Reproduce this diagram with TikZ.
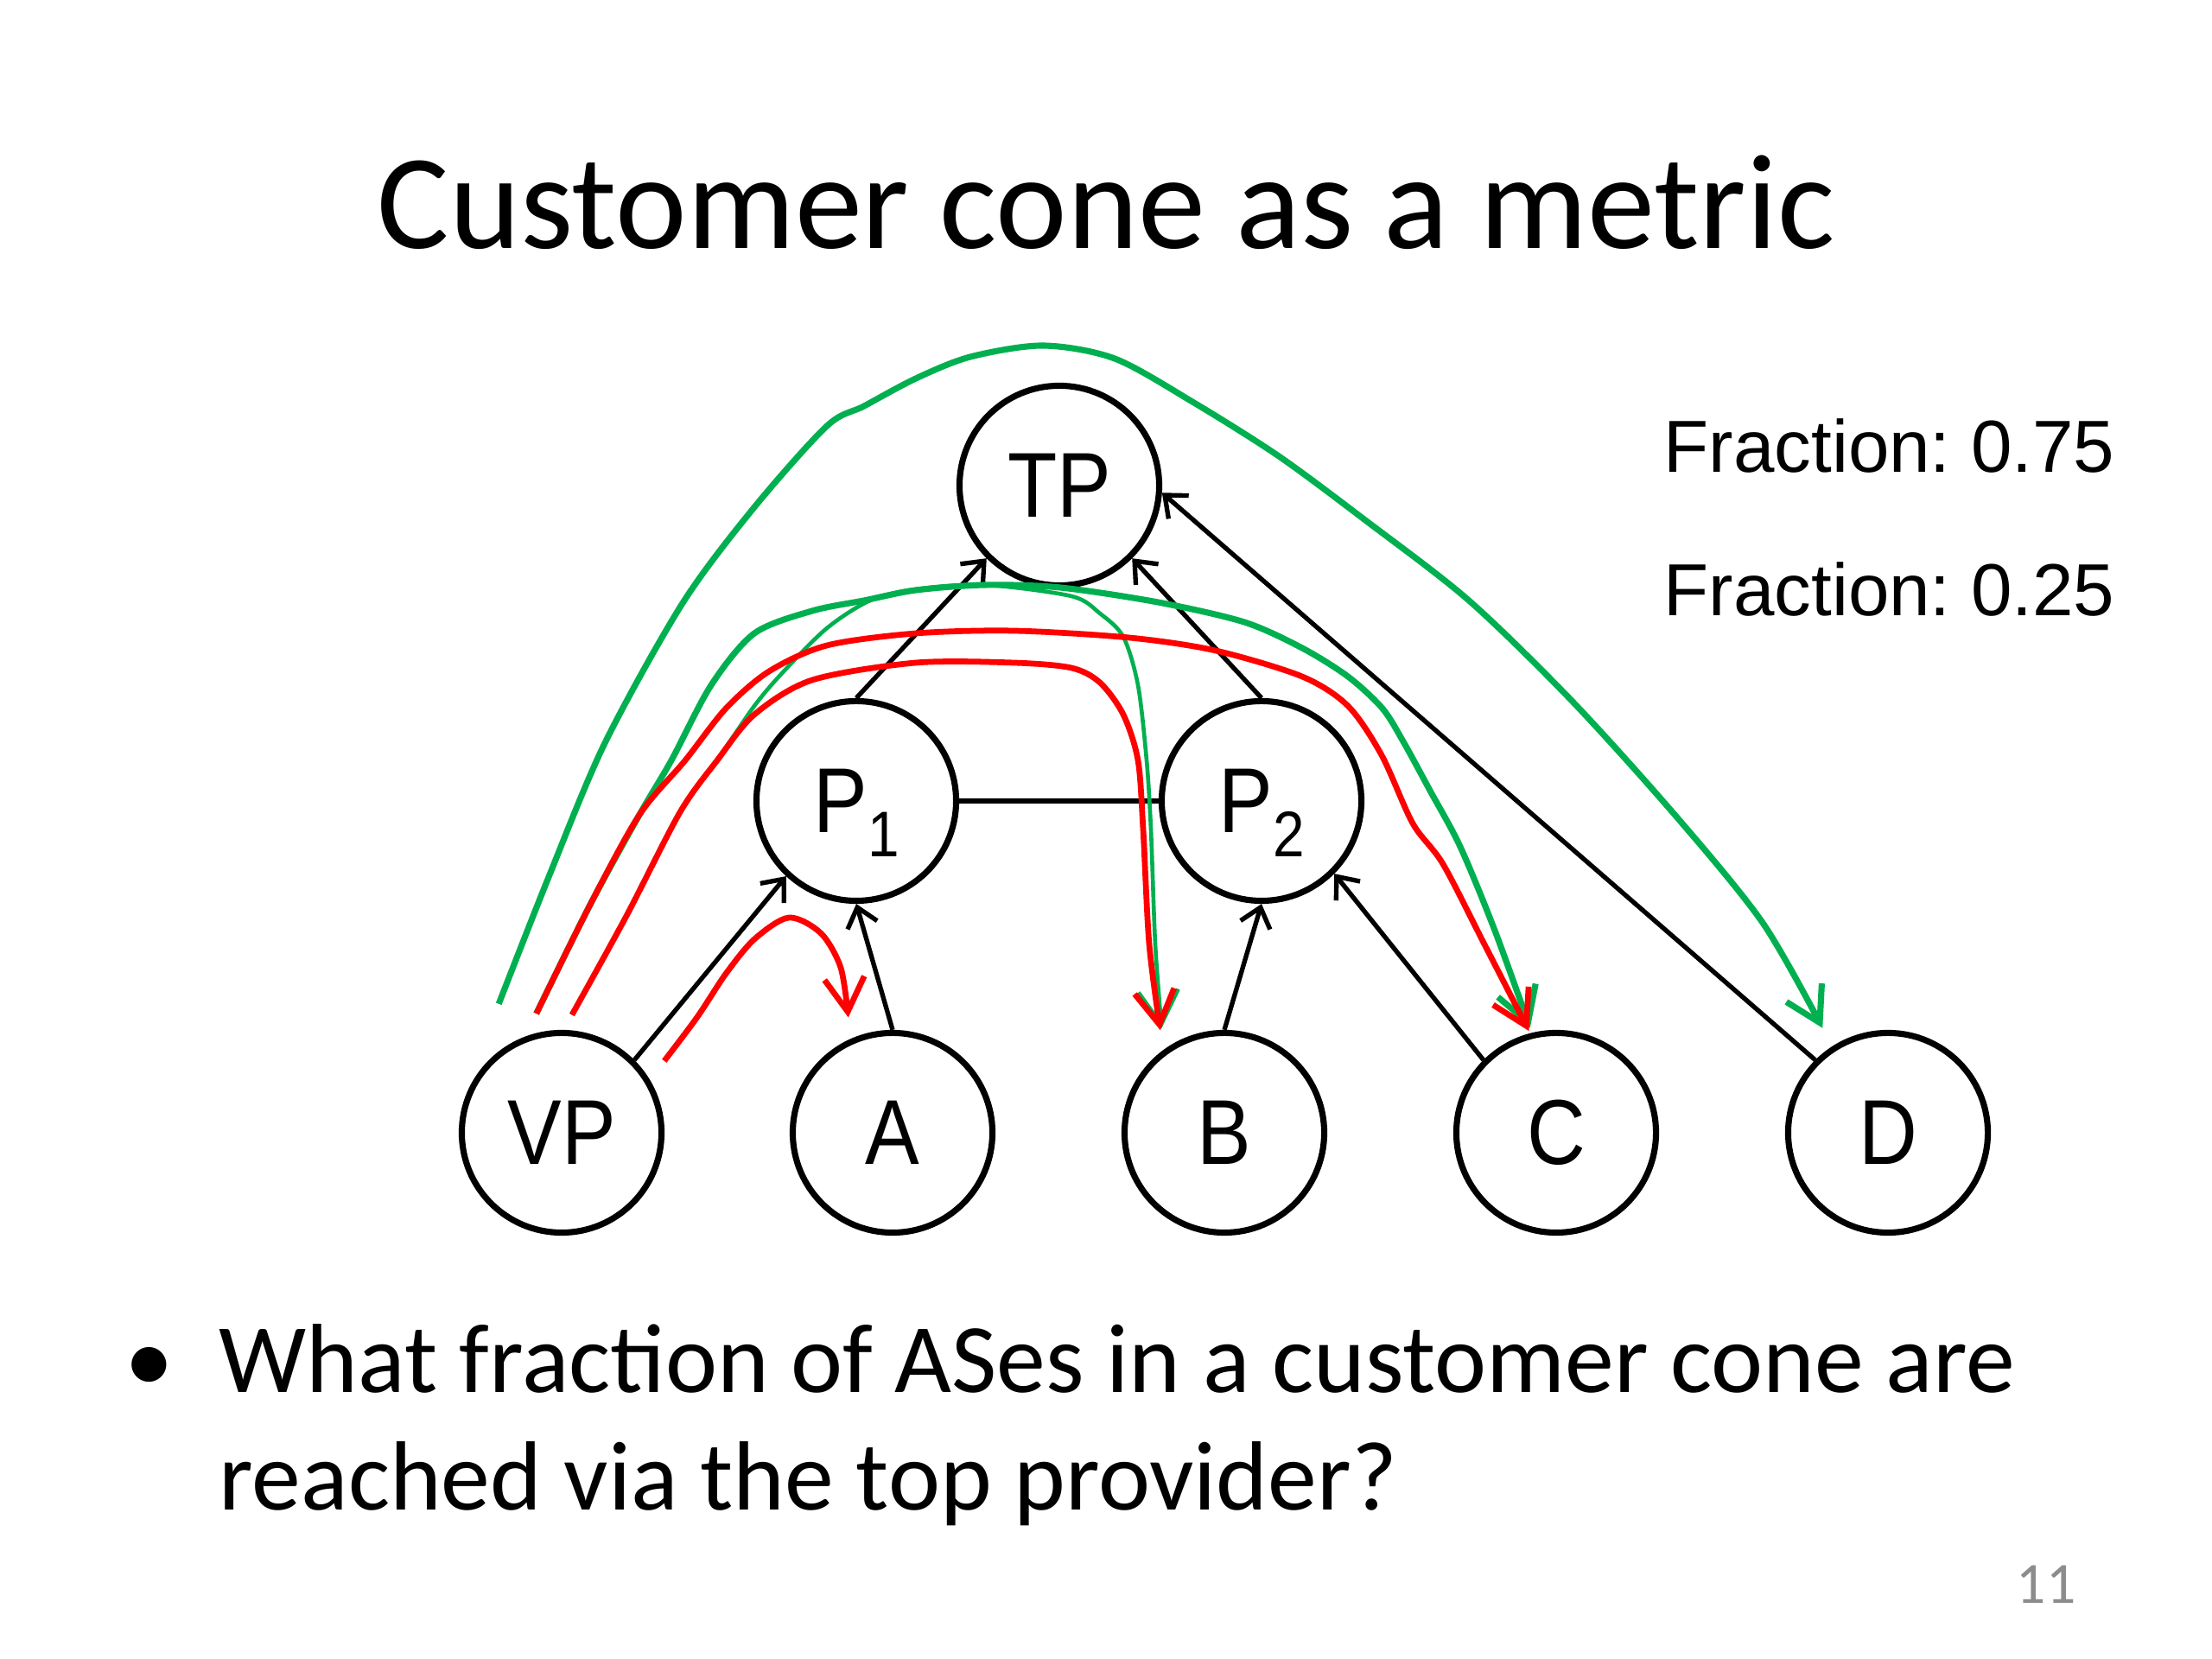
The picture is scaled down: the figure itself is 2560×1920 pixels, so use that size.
\documentclass[tikz,border=0pt]{standalone}
\usepackage{fontspec}
\setmainfont{Carlito}
\newfontfamily\arialfont{Liberation Sans}
\newfontfamily\asfont[FakeStretch=0.88]{Liberation Sans}
\usepackage{tikz}
\usetikzlibrary{arrows.meta, calc}
\definecolor{pathgreen}{HTML}{00B050}
\definecolor{pathred}{HTML}{FF0000}
\definecolor{pagegray}{HTML}{8C8C8C}
\newcommand{\lowidx}[1]{\raisebox{-0.26em}[0pt][0pt]{\fontsize{21}{22}\selectfont #1}}
\frenchspacing

\begin{document}
\begin{tikzpicture}[
            x=0.28125pt, y=0.28125pt,
            asnode/.style  ={circle, draw=black, line width=2pt, fill=white,
                             minimum size=65pt, inner sep=0pt,
                             font=\asfont\fontsize{30}{33}\selectfont},
            rel/.style     ={-{Straight Barb[length=6pt,width=10pt]}, line width=1.5pt},
            peer/.style    ={line width=1.5pt},
            viatp/.style   ={pathgreen, line width=2pt,
                             -{Straight Barb[length=11pt,width=13pt]}},
            notp/.style    ={pathred, line width=1.9pt,
                             -{Straight Barb[length=11pt,width=13pt]}},
            heading/.style ={font=\fontsize{44}{53}\selectfont, anchor=base, inner sep=0pt},
            frac/.style    ={font=\arialfont\fontsize{24}{29}\selectfont, anchor=base west,
                             inner sep=0pt},
            bodytext/.style={font=\fontsize{32}{38}\selectfont, anchor=base west, inner sep=0pt}
        ]
        \fill[white] (0,0) rectangle (2560,1920);
        \useasboundingbox (0,0) rectangle (2560,1920);

        \node[heading] (title) at (1280,1632) {Customer cone as a metric};

        % AS graph
        \node[asnode] (TP) at (1226,1358) {TP};
        \node[asnode] (P1) at (991,993)   {P\lowidx{1}};
        \node[asnode] (P2) at (1460,993)  {P\lowidx{2}};
        \node[asnode] (VP) at (650,609)   {VP};
        \node[asnode] (A)  at (1033,609)  {A};
        \node[asnode] (B)  at (1417,609)  {B};
        \node[asnode] (C)  at (1801,609)  {C};
        \node[asnode] (D)  at (2185,609)  {D};

        \draw[rel] (P1.north) -- (TP.225);
        \draw[rel] (P2.north) -- (TP.315);
        \draw[rel] (D.135) -- (TP.356);
        \draw[rel] (VP.45) -- (P1.227);
        \draw[rel] (A.north) -- (P1.south);
        \draw[rel] (B.north) -- (P2.south);
        \draw[rel] (C.135) -- (P2.315);
        \draw[peer] (P1.east) -- (P2.west);

        % free ends of the observed paths
        \coordinate (vpOut) at ($(VP)+(116:166)$);
        \coordinate (vpMid) at ($(VP)+(102:141)$);
        \coordinate (vpIn)  at ($(VP)+(85:137)$);
        \coordinate (vpA)   at ($(VP)+(35:145)$);
        \coordinate (toA)   at ($(A)+(111:143)$);
        \coordinate (toBr)  at ($(B)+(122:140)$);
        \coordinate (toBg)  at ($(B)+(121:141)$);
        \coordinate (toCr)  at ($(C)+(105:122)$);
        \coordinate (toCg)  at ($(C)+(104:125)$);
        \coordinate (toD)   at ($(D)+(122:143)$);

        % paths through the top provider
        \draw[viatp] plot[smooth, tension=0.5] coordinates {(vpOut) (635,905) (700,1060)
              (790,1222) (873,1333) (957,1427) (1000,1450) (1060,1482) (1123,1507)
              (1207,1520) (1290,1505) (1380,1455) (1480,1392) (1580,1318) (1700,1225)
              (1820,1108) (1940,975) (2040,852) (toD)};
        \draw[viatp] plot[smooth, tension=0.5] coordinates {(vpMid) (683,873) (740,977)
              (777,1040) (823,1127) (873,1187) (940,1213) (1000,1225) (1060,1237)
              (1140,1243) (1227,1240) (1340,1223) (1440,1200) (1507,1170) (1560,1137)
              (1600,1100) (1625,1060) (1655,1005) (1690,940) (1730,843) (toCg)};
        \draw[viatp, line width=1.3pt] plot[smooth, tension=0.5] coordinates {(vpIn)
              (725,860) (787,980) (830,1040) (873,1103) (907,1143) (957,1193) (1007,1225)
              (1060,1238) (1140,1243) (1240,1230) (1273,1210) (1300,1183) (1317,1127)
              (1327,1040) (1332,960) (1337,827) (toBg)};

        % paths that avoid it
        \draw[notp] plot[smooth, tension=0.5] coordinates {(vpMid) (683,873) (740,977)
              (793,1040) (840,1100) (890,1143) (957,1173) (1060,1187) (1173,1190)
              (1307,1182) (1407,1167) (1507,1137) (1560,1103) (1599,1046) (1635,967)
              (1670,920) (1718,827) (toCr)};
        \draw[notp] plot[smooth, tension=0.5] coordinates {(vpIn) (725,860) (787,980)
              (830,1040) (873,1093) (940,1133) (1060,1153) (1173,1153) (1240,1147)
              (1273,1130) (1300,1093) (1317,1040) (1323,960) (1330,827) (toBr)};
        \draw[notp] plot[smooth, tension=0.5] coordinates {(vpA) (807,743) (840,793)
              (873,833) (913,858) (950,840) (973,800) (toA)};

        \node[frac] (fracHi) at (1925,1373) {Fraction: 0.75};
        \node[frac] (fracLo) at (1925,1207) {Fraction: 0.25};

        \node[font=\fontsize{32}{38}\selectfont, anchor=base, inner sep=0pt] (dot)
              at (173,308) {\textbullet};
        \node[bodytext] (line1) at (253,308) {What fraction of ASes in a customer cone are};
        \node[bodytext] (line2) at (253,172) {reached via the top provider?};

        \node[font=\fontsize{19}{23}\selectfont, text=pagegray, anchor=base east,
              inner sep=0pt] (pagenum) at (2403,64) {11};

    \end{tikzpicture}
\end{document}
